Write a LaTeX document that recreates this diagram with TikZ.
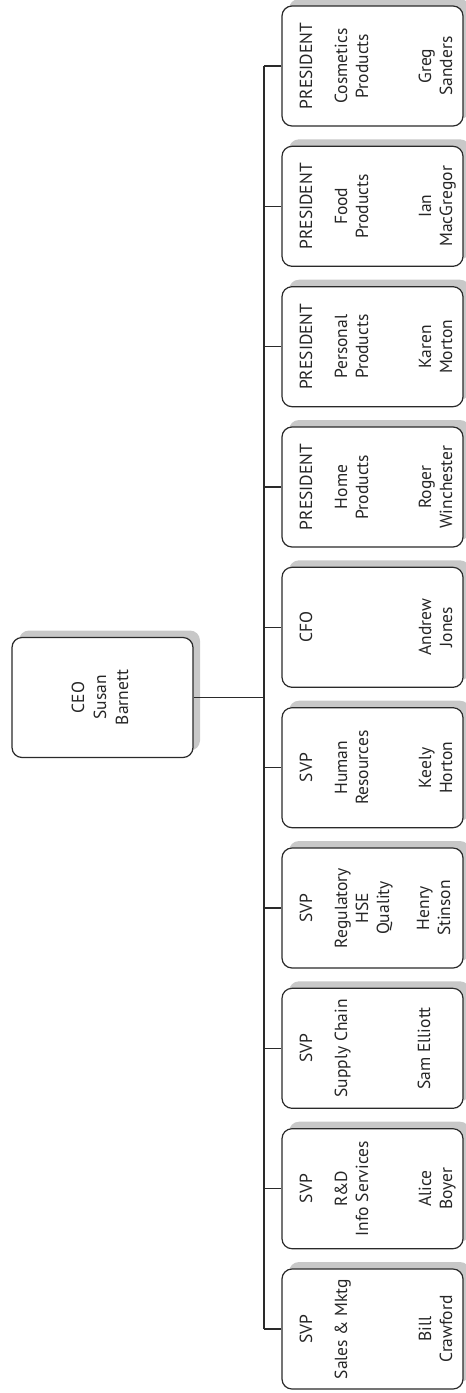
\documentclass[tikz,border=0pt]{standalone}
\usepackage{fontspec}
\setmainfont{PT Sans}
\usetikzlibrary{shadows}
\definecolor{lincol}{HTML}{2A2A2A}
\definecolor{shcol}{HTML}{C8C8C8}
\tikzset{
  obox/.style={draw=lincol, line width=1.2pt, fill=white, rounded corners=10pt,
    minimum width=181pt, minimum height=120pt, inner sep=0pt,
    drop shadow={shadow xshift=7pt, shadow yshift=7pt, fill=shcol, opacity=1}},
  lbl/.style={rotate=90, anchor=base, inner sep=0pt, font=\fontsize{17.5}{21}\selectfont, text=black!85},
  conn/.style={draw=lincol, line width=1.2pt}
}
\newcommand\oline[4]{\node[lbl] (#1) at (#2,#3) {#4};}
\begin{document}
\begin{tikzpicture}[x=1pt,y=-1pt]
\useasboundingbox (0,0) rectangle (466,1393);
% boxes
\node[obox] (b1) at (372.5,66) {};
\node[obox] (b2) at (372.5,206.3) {};
\node[obox] (b3) at (372.5,346.7) {};
\node[obox] (b4) at (372.5,487) {};
\node[obox] (b5) at (372.5,627.3) {};
\node[obox] (b6) at (372.5,767.7) {};
\node[obox] (b7) at (372.5,908) {};
\node[obox] (b8) at (372.5,1048.3) {};
\node[obox] (b9) at (372.5,1188.7) {};
\node[obox] (b10) at (372.5,1329) {};
\node[obox] (ceo) at (102.5,697.5) {};
% connectors
\coordinate (tk) at (264,0);
\draw[conn] (b1.west -| tk) -- (b10.west -| tk);
\foreach \i in {1,...,10}{\draw[conn] (b\i.west) -- (b\i.west -| tk);}
\draw[conn] (ceo.east) -- (ceo.east -| tk);
% CEO text
\oline{c1}{84}{697.5}{CEO}
\oline{c2}{106}{697.5}{Susan}
\oline{c3}{128}{697.5}{Barnett}
% box 1
\oline{t1a}{312}{66}{PRESIDENT}
\oline{t1b}{347}{66}{Cosmetics}
\oline{t1c}{368}{66}{Products}
\oline{t1d}{431}{66}{Greg}
\oline{t1e}{452}{66}{Sanders}
% box 2
\oline{t2a}{312}{206.3}{PRESIDENT}
\oline{t2b}{347}{206.3}{Food}
\oline{t2c}{368}{206.3}{Products}
\oline{t2d}{431}{206.3}{Ian}
\oline{t2e}{452}{206.3}{MacGregor}
% box 3
\oline{t3a}{312}{346.7}{PRESIDENT}
\oline{t3b}{347}{346.7}{Personal}
\oline{t3c}{368}{346.7}{Products}
\oline{t3d}{431}{346.7}{Karen}
\oline{t3e}{452}{346.7}{Morton}
% box 4
\oline{t4a}{312}{487}{PRESIDENT}
\oline{t4b}{347}{487}{Home}
\oline{t4c}{368}{487}{Products}
\oline{t4d}{431}{487}{Roger}
\oline{t4e}{452}{487}{Winchester}
% box 5
\oline{t5a}{312}{627.3}{CFO}
\oline{t5d}{431}{627.3}{Andrew}
\oline{t5e}{452}{627.3}{Jones}
% box 6
\oline{t6a}{312}{767.7}{SVP}
\oline{t6b}{347}{767.7}{Human}
\oline{t6c}{368}{767.7}{Resources}
\oline{t6d}{431}{767.7}{Keely}
\oline{t6e}{452}{767.7}{Horton}
% box 7
\oline{t7a}{312}{908}{SVP}
\oline{t7b}{347}{908}{Regulatory}
\oline{t7c}{368}{908}{HSE}
\oline{t7f}{389}{908}{Quality}
\oline{t7d}{429}{908}{Henry}
\oline{t7e}{450}{908}{Stinson}
% box 8
\oline{t8a}{312}{1048.3}{SVP}
\oline{t8b}{347}{1048.3}{Supply Chain}
\oline{t8d}{430}{1048.3}{Sam Elliott}
% box 9
\oline{t9a}{312}{1188.7}{SVP}
\oline{t9b}{347}{1188.7}{R\&D}
\oline{t9c}{368}{1188.7}{Info Services}
\oline{t9d}{431}{1188.7}{Alice}
\oline{t9e}{452}{1188.7}{Boyer}
% box 10
\oline{t10a}{312}{1329}{SVP}
\oline{t10b}{347}{1329}{Sales \& Mktg}
\oline{t10d}{431}{1329}{Bill}
\oline{t10e}{452}{1329}{Crawford}
\end{tikzpicture}
\end{document}
